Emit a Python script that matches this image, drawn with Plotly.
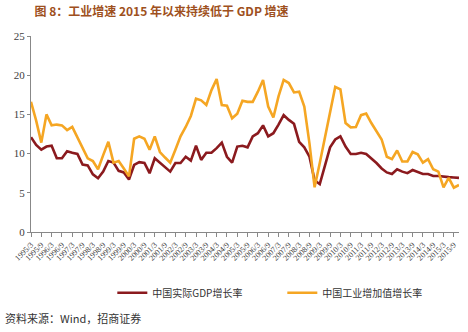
import plotly.graph_objects as go

# Quarterly periods 1995/3 .. 2015/12
quarters = [f"{y}/{m}" for y in range(1995, 2016) for m in (3, 6, 9, 12)]
tick_labels = [f"{y}/{m}" for y in range(1995, 2016) for m in (3, 9)]

gdp_growth = [
    12.1, 11.1, 10.5, 10.9, 11.0, 9.4, 9.4, 10.3, 10.1, 9.95,
    8.6, 8.5, 7.35, 6.85, 7.7, 9.05, 8.85, 7.8, 7.6, 6.7,
    8.55, 8.9, 8.8, 7.5, 9.4, 8.85, 8.2, 7.7, 8.8, 8.8,
    9.6, 9.1, 11.0, 9.2, 10.1, 10.1, 10.7, 11.4, 9.6, 8.85,
    10.9, 11.0, 10.8, 12.2, 12.6, 13.6, 12.2, 12.6, 13.7, 14.9,
    14.3, 13.8, 11.5, 10.8, 9.6, 6.6, 6.1, 8.3, 10.8, 11.8,
    12.2, 10.9, 9.95, 9.95, 10.1, 9.95, 9.4, 8.8, 8.1, 7.6,
    7.4, 8.0, 7.7, 7.5, 7.9, 7.6, 7.4, 7.4, 7.15, 7.15,
    7.05, 7.0, 6.95, 6.9,
]
industry_growth = [
    16.6, 14.2, 11.4, 15.0, 13.6, 13.7, 13.6, 13.0, 13.4, 12.1,
    10.9, 9.4, 9.05, 8.0, 9.8, 11.5, 8.85, 9.05, 8.1, 7.1,
    11.9, 12.2, 11.9, 10.5, 12.2, 10.2, 9.5, 8.85, 10.5, 12.2,
    13.4, 14.8, 17.0, 16.8, 16.2, 18.1, 19.5, 16.2, 16.1, 14.5,
    15.1, 16.75, 16.6, 16.6, 17.9, 19.4, 16.0, 14.6, 17.3, 19.4,
    19.0, 17.8, 17.9, 16.0, 11.3, 5.7, 8.8, 12.2, 15.6, 18.5,
    18.2, 13.9, 13.35, 13.4, 14.9, 15.1, 13.9, 12.8, 11.8, 9.6,
    9.3, 10.4, 9.0, 9.0, 10.2, 9.9, 8.85, 9.3, 8.0, 7.7,
    5.7, 6.9, 5.65, 6.0,
]
series_names = ["中国实际GDP增长率", "中国工业增加值增长率"]
y_ticks = [0, 5, 10, 15, 20, 25]

x_idx = list(range(len(quarters)))
tick_vals = [i for i, q in enumerate(quarters) if q.endswith("/3") or q.endswith("/9")]

fig = go.Figure()
fig.add_trace(go.Scatter(
    x=x_idx, y=gdp_growth, mode="lines", name=series_names[0],
    line=dict(color="#8b1a1e", width=2.6),
    customdata=quarters,
))
fig.add_trace(go.Scatter(
    x=x_idx, y=industry_growth, mode="lines", name=series_names[1],
    line=dict(color="#f5a623", width=2.6),
    customdata=quarters,
))

axis_font = dict(family="Liberation Serif, Times New Roman, serif", color="#404040")

fig.update_layout(
    width=468, height=332,
    margin=dict(l=31, r=9, t=36, b=100),
    paper_bgcolor="white", plot_bgcolor="white",
    showlegend=True,
    legend=dict(
        orientation="h", x=0.19, xanchor="left", y=-0.31, yanchor="middle",
        font=dict(family="Noto Sans CJK SC", size=10, color="#333333"),
        bgcolor="rgba(0,0,0,0)", itemwidth=30,
        entrywidth=125, entrywidthmode="pixels",
    ),
    title=dict(
        text="<b>图 8：工业增速 2015 年以来持续低于 GDP 增速</b>",
        x=0.008, xanchor="left", y=0.965, yanchor="middle", xref="paper",
        font=dict(family="Noto Sans CJK SC", size=12, color="#9e5020"),
    ),
    xaxis=dict(
        range=[0, len(quarters) - 1],
        tickmode="array", tickvals=tick_vals, ticktext=tick_labels,
        tickangle=-45, tickfont=dict(size=8, **axis_font),
        showline=True, linecolor="#888888", linewidth=1,
        ticks="outside", ticklen=4, tickcolor="#888888",
        showgrid=False, zeroline=False,
    ),
    yaxis=dict(
        range=[0, 25], tickvals=y_ticks,
        tickfont=dict(size=11, **axis_font),
        showline=True, linecolor="#888888", linewidth=1,
        ticks="outside", ticklen=3, tickcolor="#888888",
        showgrid=False, zeroline=False,
    ),
    annotations=[dict(
        text="资料来源：Wind，招商证券", xref="paper", yref="paper",
        x=-0.066, y=-0.44, xanchor="left", yanchor="middle", showarrow=False,
        font=dict(family="Noto Sans CJK SC", size=11, color="#333333"),
    )],
)

fig.write_html("out.html")
